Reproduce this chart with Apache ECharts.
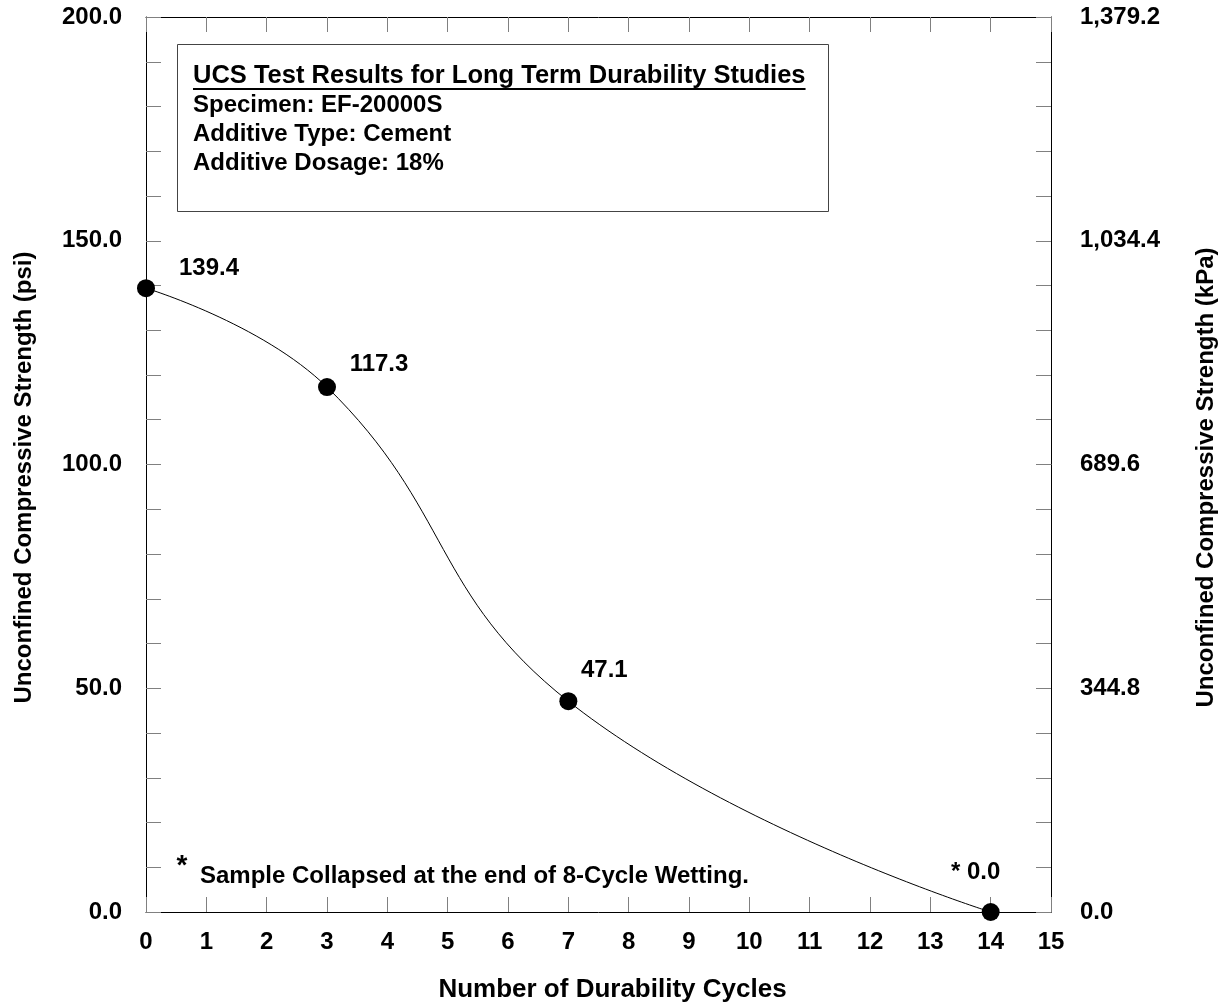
<!DOCTYPE html>
<html>
<head>
<meta charset="utf-8">
<script src="https://cdn.jsdelivr.net/npm/echarts@6/dist/echarts.min.js"></script>
<style>
  html, body { margin: 0; padding: 0; background: #fff; }
  #chart { width: 1226px; height: 1008px; }
</style>
</head>
<body>
<div id="chart"></div>
<script>
// Durability cycles and measured UCS (psi)
const cycles = [0, 3, 7, 14];
const strengthPsi = [139.4, 117.3, 47.1, 0.0];
const collapsed = [false, false, false, true];

// Axis ranges / conversion
const xTicks = [0, 15, 1];
const yRangePsi = [0, 200, 10];
const psiToKpa = 6.896;

// Inset text
const infoTitle = 'UCS Test Results for Long Term Durability Studies';
const infoLines = ['Specimen: EF-20000S', 'Additive Type: Cement', 'Additive Dosage: 18%'];
const noteText = 'Sample Collapsed at the end of 8-Cycle Wetting.';

// Label placement relative to each point (layout only)
const labelOffsets = [[63, -20], [52, -23], [36, -31], [-15, -40]];

const FONT = '"Liberation Sans", Arial, sans-serif';
const FS = 24;
const tickColor = '#808080';

function measure(text, size) {
  const ctx = document.createElement('canvas').getContext('2d');
  ctx.font = 'bold ' + size + 'px ' + FONT;
  return ctx.measureText(text).width;
}

const chart = echarts.init(document.getElementById('chart'), null, { renderer: 'canvas' });

const labelStyle = { color: '#000', fontFamily: FONT, fontWeight: 'bold', fontSize: FS };

function xAxisDef(pos, showLabels) {
  return {
    type: 'value', position: pos, min: xTicks[0], max: xTicks[1], interval: xTicks[2],
    axisLine: { show: true, onZero: false, lineStyle: { color: '#000', width: 1 } },
    axisTick: { show: true, inside: true, length: 15, lineStyle: { color: tickColor, width: 1 } },
    axisLabel: Object.assign({ show: showLabels, margin: 18 }, labelStyle),
    splitLine: { show: false }
  };
}

function yAxisDef(pos, fmt, name, gap) {
  return {
    type: 'value', position: pos, min: yRangePsi[0], max: yRangePsi[1], interval: yRangePsi[2],
    axisLine: { show: true, onZero: false, lineStyle: { color: '#000', width: 1 } },
    axisTick: { show: true, inside: true, length: 15, lineStyle: { color: tickColor, width: 1 } },
    axisLabel: Object.assign({ margin: pos === 'left' ? 24 : 29, formatter: fmt }, labelStyle),
    splitLine: { show: false },
    name: name, nameLocation: 'middle', nameRotate: 90, nameGap: gap,
    nameTextStyle: Object.assign({}, labelStyle, { fontSize: 24, padding: [0, 26, 0, 0] })
  };
}

const fmtPsi = v => (Math.round(v) % 50 === 0 ? v.toFixed(1) : '');
const fmtKpa = v => (Math.round(v) % 50 === 0
  ? (v * psiToKpa).toLocaleString('en-US', { minimumFractionDigits: 1, maximumFractionDigits: 1 })
  : '');

const xBottom = xAxisDef('bottom', true);
xBottom.name = 'Number of Durability Cycles';
xBottom.nameLocation = 'middle';
xBottom.nameGap = 65;
xBottom.nameTextStyle = Object.assign({}, labelStyle, { fontSize: 26, padding: [0, 0, 0, 28] });

const TITLE_FS = 25.5;
const titleW = measure(infoTitle, TITLE_FS);
const boxX = 177, boxY = 44;
const textX = 193;

const option = {
  backgroundColor: '#fff',
  animation: false,
  grid: { left: 146, right: 174, top: 17, bottom: 88, containLabel: false },
  xAxis: [xBottom, xAxisDef('top', false)],
  yAxis: [
    yAxisDef('left', fmtPsi, 'Unconfined Compressive Strength (psi)', 110),
    yAxisDef('right', fmtKpa, 'Unconfined Compressive Strength (kPa)', 143)
  ],
  series: [{
    type: 'line',
    data: cycles.map((c, i) => ({
      value: [c, strengthPsi[i]],
      label: { offset: labelOffsets[i] }
    })),
    smooth: 0.45,
    symbol: 'circle',
    symbolSize: 18,
    itemStyle: { color: '#000' },
    lineStyle: { color: '#000', width: 1 },
    label: Object.assign({
      show: true, position: 'inside',
      formatter: p => (collapsed[p.dataIndex] ? '* ' : '') + p.value[1].toFixed(1)
    }, labelStyle),
    z: 5
  }],
  graphic: [
    {
      type: 'rect', left: boxX, top: boxY, z: 10,
      shape: { width: 651, height: 167 },
      style: { fill: '#fff', stroke: '#444', lineWidth: 1 }
    },
    {
      type: 'text', x: textX, y: 76, z: 11,
      style: { text: infoTitle, fill: '#000', font: 'bold ' + TITLE_FS + 'px ' + FONT, verticalAlign: 'middle' }
    },
    {
      type: 'line', z: 11,
      shape: { x1: textX, y1: 89, x2: textX + titleW, y2: 89 },
      style: { stroke: '#000', lineWidth: 2 }
    },
    ...infoLines.map((t, i) => ({
      type: 'text', x: textX, y: 105 + i * 29, z: 11,
      style: { text: t, fill: '#000', font: 'bold ' + FS + 'px ' + FONT, verticalAlign: 'middle' }
    })),
    {
      type: 'text', x: 182, y: 866, z: 11,
      style: { text: '*', fill: '#000', font: 'bold 28px ' + FONT, align: 'center', verticalAlign: 'middle' }
    },
    {
      type: 'text', x: 200, y: 876, z: 11,
      style: { text: noteText, fill: '#000', font: 'bold ' + FS + 'px ' + FONT, verticalAlign: 'middle' }
    }
  ]
};

chart.setOption(option);
</script>
</body>
</html>
